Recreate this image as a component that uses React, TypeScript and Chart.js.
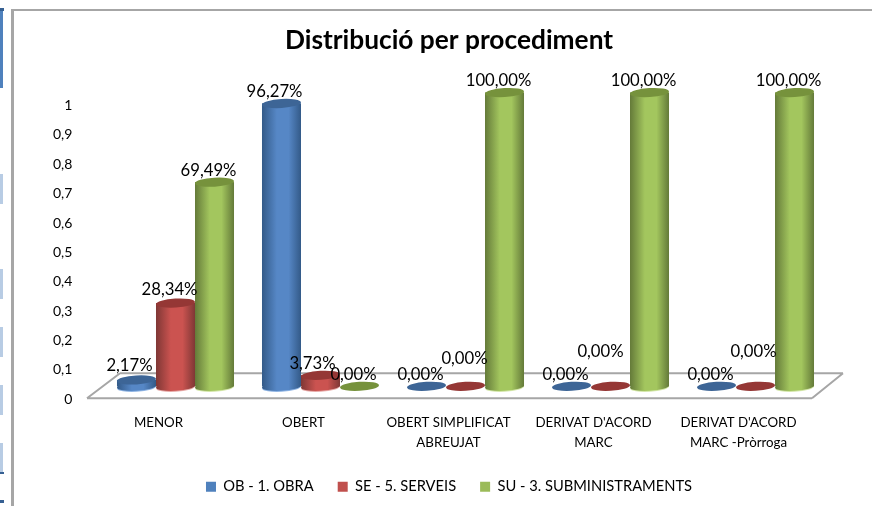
import React, { useEffect, useRef } from "react";
import { Chart, registerables } from "chart.js";

Chart.register(...registerables);

const titleText = "Distribució per procediment";
const categories = [
  "MENOR",
  "OBERT",
  ["OBERT SIMPLIFICAT", "ABREUJAT"],
  ["DERIVAT D'ACORD", "MARC"],
  ["DERIVAT D'ACORD", "MARC -Pròrroga"],
];
const obraLabel = "OB - 1. OBRA";
const serveisLabel = "SE - 5. SERVEIS";
const subministramentsLabel = "SU - 3. SUBMINISTRAMENTS";
const obraValues = [0.0217, 0.9627, 0, 0, 0];
const serveisValues = [0.2834, 0.0373, 0, 0, 0];
const subministramentsValues = [0.6949, 0, 1, 1, 1];

const FONT = "Lato, 'Open Sans', sans-serif";
const palettes = [
  { flat: "#4F81BD", edge: "#335A88", mid: "#5687C6", cap: "#3D6596", rim: "#8FB4E3" },
  { flat: "#C0504D", edge: "#7F3735", mid: "#CB5350", cap: "#953735", rim: "#E6A9A7" },
  { flat: "#9BBB59", edge: "#647A39", mid: "#A3C65E", cap: "#76923C", rim: "#D3E6A8" },
];
// Hand-moved data labels in the original, keyed "dataset,index": [dx, dy]
const labelNudges: Record<string, [number, number]> = {
  "0,0": [-1, -2],
  "1,0": [0, -1],
  "1,1": [-2, 0],
  "0,1": [-1, 0],
  "1,2": [5, -16],
  "1,3": [-4, -23],
  "1,4": [4, -23],
};
// Fragments of the surrounding page at the picture's left edge: [top, height, width, colour]
const pageFragments: [number, number, number, string][] = [
  [8, 3, 4, "#366092"],
  [11, 77, 3, "#4F81BD"],
  [174, 30, 3, "#B8CCE4"],
  [269, 30, 3, "#B8CCE4"],
  [327, 30, 3, "#B8CCE4"],
  [385, 30, 3, "#B8CCE4"],
  [443, 29, 3, "#B8CCE4"],
  [472, 2, 4, "#366092"],
  [500, 3, 4, "#366092"],
];

function cylinderGradient(ctx: CanvasRenderingContext2D, left: number, right: number, p: any) {
  const g = ctx.createLinearGradient(left, 0, right, 0);
  g.addColorStop(0, p.edge);
  g.addColorStop(0.38, p.mid);
  g.addColorStop(0.68, p.mid);
  g.addColorStop(1, p.edge);
  return g;
}

const TILT = -0.06;
const CAP_RY = 4.5;

const cylinderPlugin = {
  id: "cylinder",
  beforeDatasetsDraw(chart: any) {
    const { ctx, chartArea, scales } = chart;
    const base = scales.y.getPixelForValue(0);
    const fl = chartArea.left - 16;
    const fr = chartArea.right - 16;
    const bl = chartArea.left + 17;
    const br = chartArea.right + 15;
    const fy = base + 12;
    const by = base - 13;
    ctx.save();
    ctx.strokeStyle = "#A6A6A6";
    ctx.lineWidth = 2;
    ctx.beginPath();
    ctx.moveTo(bl, by);
    ctx.lineTo(br, by);
    ctx.moveTo(fl, fy);
    ctx.lineTo(fr, fy);
    ctx.moveTo(fl, fy);
    ctx.lineTo(bl, by);
    ctx.moveTo(fr, fy);
    ctx.lineTo(br, by);
    ctx.stroke();
    ctx.restore();
  },
  afterDatasetsDraw(chart: any) {
    const { ctx } = chart;
    ctx.save();
    chart.data.datasets.forEach((_: any, i: number) => {
      const p = palettes[i];
      chart.getDatasetMeta(i).data.forEach((bar: any) => {
        const r = bar.width / 2;
        const left = bar.x - r;
        const right = bar.x + r;
        if (bar.base - bar.y > 0.5) {
          ctx.fillStyle = p.rim;
          ctx.beginPath();
          ctx.ellipse(bar.x, bar.base + 1, r, CAP_RY, TILT, 0, Math.PI * 2);
          ctx.fill();
          ctx.fillStyle = cylinderGradient(ctx, left, right, p);
          ctx.fillRect(left, bar.y, bar.width, bar.base - bar.y);
          ctx.beginPath();
          ctx.ellipse(bar.x, bar.base, r, CAP_RY, TILT, 0, Math.PI * 2);
          ctx.fill();
        }
        ctx.fillStyle = p.cap;
        ctx.beginPath();
        ctx.ellipse(bar.x, bar.y, r, CAP_RY, TILT, 0, Math.PI * 2);
        ctx.fill();
      });
    });
    ctx.restore();
  },
  afterDraw(chart: any) {
    const { ctx } = chart;
    ctx.save();
    ctx.font = `16.7px ${FONT}`;
    ctx.fillStyle = "#000000";
    ctx.textAlign = "center";
    ctx.textBaseline = "middle";
    chart.data.datasets.forEach((ds: any, i: number) => {
      chart.getDatasetMeta(i).data.forEach((bar: any, j: number) => {
        const text = (ds.data[j] * 100).toFixed(2).replace(".", ",") + "%";
        const [dx, dy] = labelNudges[`${i},${j}`] || [0, 0];
        ctx.fillText(text, bar.x - 6 + dx, bar.y - 12 + dy);
      });
    });
    ctx.restore();
  },
};

export default function App() {
  const ref = useRef<HTMLCanvasElement>(null);
  useEffect(() => {
    const chart = new Chart(ref.current as HTMLCanvasElement, {
      type: "bar",
      data: {
        labels: categories as any,
        datasets: [
          { label: obraLabel, data: obraValues, backgroundColor: palettes[0].flat },
          { label: serveisLabel, data: serveisValues, backgroundColor: palettes[1].flat },
          { label: subministramentsLabel, data: subministramentsValues, backgroundColor: palettes[2].flat },
        ],
      },
      options: {
        animation: false,
        responsive: false,
        layout: { padding: { left: 70, right: 44, top: 25, bottom: 2 } },
        datasets: { bar: { barPercentage: 1, categoryPercentage: 0.807 } },
        scales: {
          x: {
            grid: { display: false },
            border: { display: false },
            afterFit(s: any) { s.height = 69; },
            ticks: {
              autoSkip: false,
              maxRotation: 0,
              labelOffset: -17,
              padding: 18,
              color: "#000000",
              font: { family: FONT, size: 13.3, lineHeight: 1.5 },
            },
          },
          y: {
            min: 0,
            max: 1,
            grid: { display: false },
            border: { display: false },
            afterFit(s: any) { s.width = 33; },
            ticks: {
              stepSize: 0.1,
              mirror: true,
              crossAlign: "far",
              padding: -50,
              labelOffset: 13,
              color: "#000000",
              font: { family: FONT, size: 14 },
              callback: (v: any) => String(Math.round(Number(v) * 10) / 10).replace(".", ","),
            },
          },
        },
        plugins: {
          tooltip: { enabled: false },
          title: {
            display: true,
            text: titleText,
            color: "#000000",
            font: { family: FONT, size: 26.3, weight: "bold" },
            padding: { top: 0, bottom: 36 },
          },
          legend: {
            position: "bottom",
            labels: {
              boxWidth: 10,
              boxHeight: 10,
              padding: 24,
              color: "#000000",
              font: { family: FONT, size: 14.7 },
            },
          },
        },
      } as any,
      plugins: [cylinderPlugin],
    });
    return () => chart.destroy();
  }, []);
  return (
    <div style={{ position: "absolute", left: 0, top: 0, width: 872, height: 506, background: "#fff", overflow: "hidden" }}>
      {pageFragments.map(([top, height, width, background], i) => (
        <div key={i} style={{ position: "absolute", left: 0, top, width, height, background }} />
      ))}
      <div style={{ position: "absolute", left: 11, top: 9, right: 0, height: 2, background: "#A6A6A6" }} />
      <div style={{ position: "absolute", left: 11, top: 9, bottom: 0, width: 3, background: "#A6A6A6" }} />
      <canvas ref={ref} width={872} height={506} style={{ position: "absolute", left: 0, top: 0 }} />
    </div>
  );
}
